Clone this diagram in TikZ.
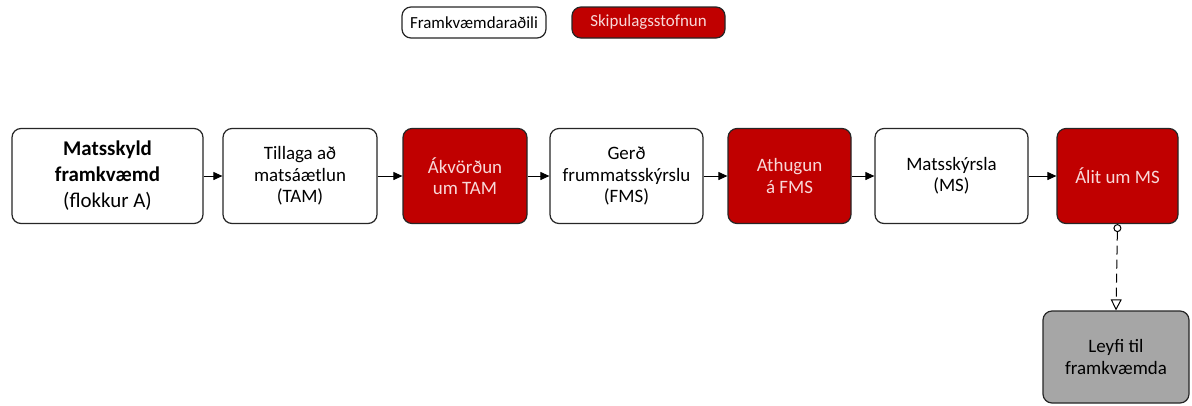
\documentclass[tikz,border=0pt]{standalone}
\usepackage{fontspec}
\setmainfont{Carlito}
\usetikzlibrary{arrows.meta}
\definecolor{msred}{HTML}{C00000}
\definecolor{mspink}{HTML}{F8D8D8}
\definecolor{msgray}{HTML}{A6A6A6}
\definecolor{msline}{HTML}{262626}
\begin{document}
\begin{tikzpicture}[x=1bp,y=-1bp,
  proc/.style={draw=msline,line width=1.2bp,rounded corners=9bp,align=center,
    inner sep=0pt,font=\fontsize{19}{21.5}\selectfont},
  whitebox/.style={proc,fill=white,text=black},
  redbox/.style={proc,fill=msred,text=mspink},
  graybox/.style={proc,fill=msgray,text=black},
  legend/.style={draw=msline,line width=1.2bp,rounded corners=9bp,inner sep=0pt,
    minimum height=31bp,font=\fontsize{17}{18}\selectfont},
  flow/.style={line width=1bp,draw=black,-{Triangle[length=9bp,width=8bp]}}
]
\useasboundingbox (0,0) rectangle (1192,405);
% legend
\node[legend,fill=white,minimum width=144bp] (lw) at (474,22.5) {Framkvæmdaraðili};
\node[legend,fill=msred,text=mspink,minimum width=153bp] (lr) at (648.5,22.5) {Skipulagsstofnun};
% boxes
\node[whitebox,minimum width=191bp,minimum height=95bp,font=\fontsize{21}{26}\selectfont] (b1) at (107.5,176)
  {\textbf{Matsskyld}\\\textbf{framkvæmd}\\(flokkur A)};
\node[whitebox,minimum width=154bp,minimum height=95bp] (b2) at (300,176)
  {Tillaga að\\matsáætlun\\(TAM)};
\node[redbox,minimum width=124bp,minimum height=95bp] (b3) at (465,176)
  {Ákvörðun\\um TAM};
\node[whitebox,minimum width=153bp,minimum height=95bp] (b4) at (626.5,176)
  {Gerð\\frummatsskýrslu\\(FMS)};
\node[redbox,minimum width=123bp,minimum height=95bp] (b5) at (789.5,176)
  {Athugun\\á FMS};
\node[whitebox,minimum width=153bp,minimum height=95bp] (b6) at (951.5,176)
  {Matsskýrsla\\(MS)};
\node[redbox,minimum width=121bp,minimum height=95bp] (b7) at (1117.5,176)
  {Álit um MS};
\node[graybox,minimum width=146bp,minimum height=92bp] (b8) at (1116,357)
  {Leyfi til\\framkvæmda};
% connectors
\draw[flow] (b1) -- (b2);
\draw[flow] (b2) -- (b3);
\draw[flow] (b3) -- (b4);
\draw[flow] (b4) -- (b5);
\draw[flow] (b5) -- (b6);
\draw[flow] (b6) -- (b7);
\draw[line width=1bp,dash pattern=on 9bp off 5bp,
  {Circle[open,length=8bp,width=8bp,line width=1bp]}-{Triangle[open,length=11bp,width=11bp,line width=1bp]}]
  (b7.south) -- (b8.north);
\end{tikzpicture}
\end{document}
